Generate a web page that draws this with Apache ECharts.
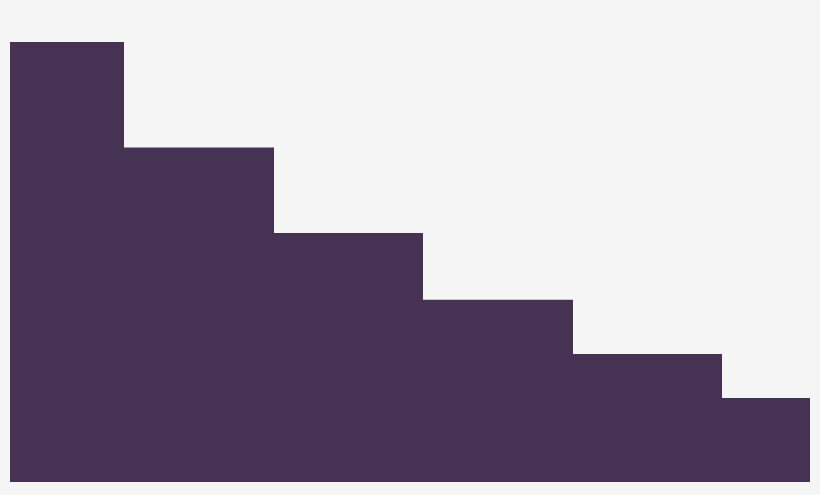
<!DOCTYPE html>
<html>
<head>
    <meta charset="utf-8">
    <title>Step area</title>
    <script src="https://cdn.jsdelivr.net/npm/echarts@6/dist/echarts.min.js"></script>
    <style>
        html, body { margin: 0; padding: 0; background: #f5f5f5; }
    </style>
</head>
<body>
<div id="main" style="width: 820px;height:495px;"></div>
<script type="text/javascript">
    // step positions along x and the level that starts there
    var stepX = [0, 114, 264, 413, 563, 712, 800];
    var levels = [100, 76, 56.6, 41.4, 29.1, 19.1, 19.1];

    var points = stepX.map(function (x, i) {
        return [x, levels[i]];
    });

    var chartDom = document.getElementById('main');
    var myChart = echarts.init(chartDom);

    var option = {
        backgroundColor: '#f5f5f5',
        animation: false,
        grid: {left: 10, right: 10, top: 42, bottom: 13},
        xAxis: {
            type: 'value',
            min: 0,
            max: 800,
            show: false
        },
        yAxis: {
            type: 'value',
            min: 0,
            max: 100,
            show: false
        },
        series: [{
            type: 'line',
            step: 'end',
            data: points,
            symbol: 'none',
            lineStyle: {width: 0},
            areaStyle: {color: '#463253', opacity: 1}
        }]
    };
    myChart.setOption(option);
</script>
</body>
</html>
